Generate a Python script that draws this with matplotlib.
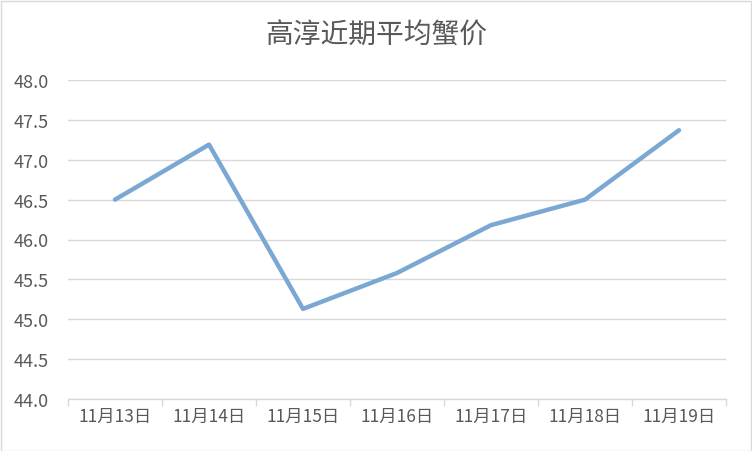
import matplotlib.pyplot as plt
from matplotlib.patches import Rectangle

plt.rcParams["font.family"] = ["Noto Sans CJK SC", "DejaVu Sans"]

# Data
dates = ["11月13日", "11月14日", "11月15日", "11月16日", "11月17日", "11月18日", "11月19日"]
prices = [46.50, 47.19, 45.13, 45.58, 46.18, 46.50, 47.37]
y_ticks = [44.0, 44.5, 45.0, 45.5, 46.0, 46.5, 47.0, 47.5, 48.0]

title = "高淳近期平均蟹价"
line_color = "#7BA7D3"
text_color = "#595959"
grid_color = "#D9D9D9"

fig = plt.figure(figsize=(7.52, 4.52), dpi=100)
ax = fig.add_axes([68 / 752, 1 - 400 / 452, (726 - 68) / 752, (400 - 81) / 452])

x = list(range(len(dates)))
ax.plot(x, prices, color=line_color, linewidth=3.2, solid_capstyle="round",
        solid_joinstyle="round", zorder=3)

ax.set_xlim(-0.5, len(dates) - 0.5)
ax.set_ylim(44.0, 48.0)
ax.set_yticks(y_ticks)
ax.set_yticklabels([f"{v:.1f}" for v in y_ticks])
ax.set_xticks(x)
ax.set_xticklabels(dates)
ax.set_xticks([i - 0.5 for i in range(len(dates) + 1)], minor=True)

ax.yaxis.grid(True, color=grid_color, linewidth=1)
ax.set_axisbelow(True)
for side in ("top", "right", "left"):
    ax.spines[side].set_visible(False)
ax.spines["bottom"].set_color(grid_color)
ax.spines["bottom"].set_linewidth(1)

ax.tick_params(axis="y", length=0, pad=14, labelsize=13, labelcolor=text_color)
ax.tick_params(axis="x", which="major", length=0, pad=6, labelsize=12.5, labelcolor=text_color)
ax.tick_params(axis="x", which="minor", length=5, color=grid_color, width=1)

fig.text(0.5, 1 - 36 / 452, title, ha="center", va="center", fontsize=20,
         color=text_color)

fig.patches.append(Rectangle((0.5 / 752, 0.5 / 452), 750 / 752, 450 / 452,
                             transform=fig.transFigure, fill=False,
                             edgecolor=grid_color, linewidth=1))

fig.savefig("out.png", dpi=100)
